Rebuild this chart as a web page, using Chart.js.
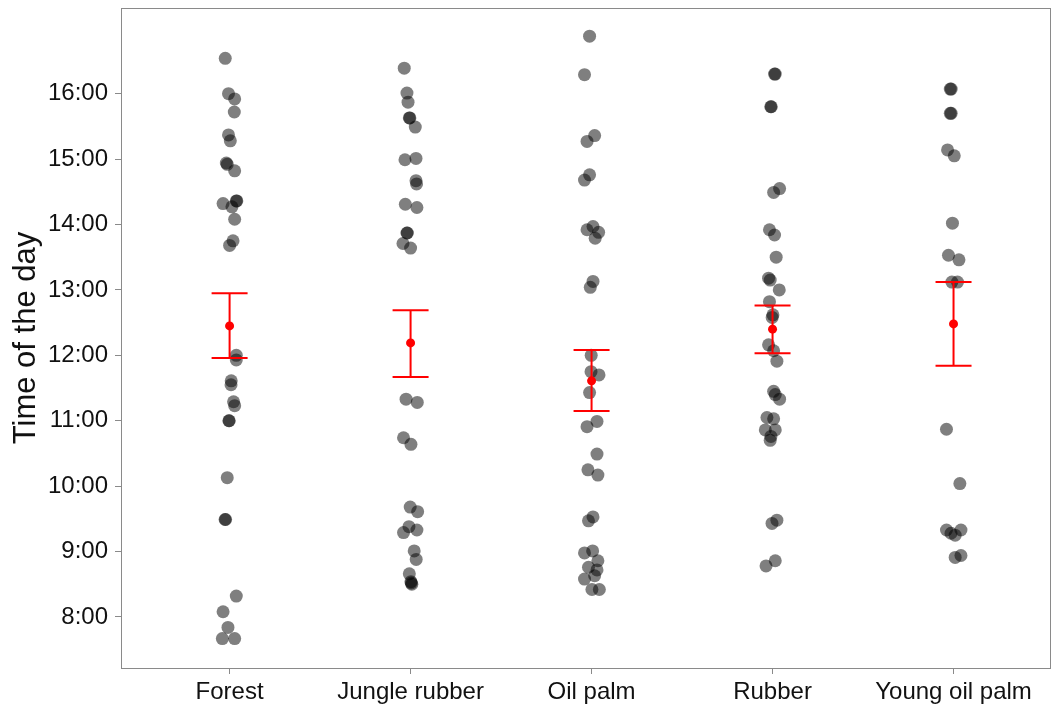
<!DOCTYPE html>
<html>
<head>
<meta charset="utf-8">
<script src="https://cdn.jsdelivr.net/npm/chart.js@4/dist/chart.umd.min.js"></script>
<style>
  html, body { margin: 0; padding: 0; background: #fff; overflow: hidden; }
  #wrap { width: 1052px; height: 708px; }
</style>
</head>
<body>
<div id="wrap"><canvas id="c" width="1052" height="708"></canvas></div>
<script>
// Land-use systems on the x axis
const categories = ["Forest", "Jungle rubber", "Oil palm", "Rubber", "Young oil palm"];

// Observation times (decimal hours) per land-use system
const forestTimes = [16.54,16.00,15.92,15.72,15.37,15.28,14.94,14.92,14.82,14.32,14.36,14.36,14.27,14.08,13.75,13.68,12.00,11.93,11.61,11.55,11.29,11.23,11.00,11.00,10.13,9.49,9.49,8.32,8.08,7.84,7.67,7.67];
const jungleRubberTimes = [16.39,16.01,15.87,15.63,15.63,15.49,14.99,15.01,14.67,14.62,14.31,14.26,13.87,13.87,13.71,13.64,11.33,11.28,10.74,10.64,9.68,9.61,9.29,9.38,9.33,9.01,8.88,8.66,8.54,8.52,8.50];
const oilPalmTimes = [16.88,16.29,15.36,15.27,14.76,14.68,13.97,13.92,13.88,13.79,13.13,13.04,12.00,11.75,11.70,11.43,10.99,10.91,10.49,10.25,10.17,9.53,9.47,9.01,8.98,8.86,8.76,8.72,8.63,8.58,8.42,8.42];
const rubberTimes = [16.30,16.30,15.80,15.80,14.55,14.49,13.92,13.84,13.50,13.18,13.15,13.00,12.82,12.62,12.58,12.16,12.07,11.91,11.45,11.40,11.33,11.05,11.03,10.86,10.86,10.76,10.70,9.48,9.43,8.86,8.78];
const youngOilPalmTimes = [16.07,16.07,15.70,15.70,15.14,15.05,14.02,13.53,13.46,13.12,13.12,10.87,10.04,9.33,9.28,9.25,9.33,8.91,8.94];

// Horizontal jitter of each observation (in category units)
const forestJitter = [-0.024,-0.006,0.028,0.026,-0.006,0.004,-0.018,-0.013,0.028,-0.036,0.037,0.040,0.013,0.028,0.019,0,0.037,0.037,0.009,0.008,0.022,0.028,-0.002,-0.004,-0.013,-0.022,-0.025,0.037,-0.036,-0.009,-0.040,0.028];
const jungleRubberJitter = [-0.035,-0.020,-0.014,-0.007,-0.004,0.026,-0.031,0.030,0.030,0.033,-0.029,0.035,-0.020,-0.018,-0.042,0,-0.025,0.037,-0.039,0.002,-0.002,0.039,-0.039,-0.009,0.035,0.020,0.031,-0.007,0.002,0.004,0.007];
const oilPalmJitter = [-0.011,-0.039,0.017,-0.025,-0.011,-0.039,0.008,-0.025,0.039,0.020,0.008,-0.007,-0.002,-0.003,0.041,-0.011,0.030,-0.025,0.030,-0.020,0.035,0.008,-0.017,0.006,-0.039,0.035,-0.017,0.030,0.017,-0.039,0.002,0.043];
const rubberJitter = [0.011,0.015,-0.007,-0.010,0.039,0.006,-0.017,0.011,0.020,-0.022,-0.013,0.037,-0.017,0.002,-0.002,-0.022,0.006,0.024,0.006,0.015,0.039,-0.031,0.006,-0.040,0.015,-0.009,-0.013,0.024,-0.003,0.015,-0.036];
const youngOilPalmJitter = [-0.018,-0.013,-0.018,-0.013,-0.033,0.004,-0.006,-0.028,0.030,-0.009,0.022,-0.039,0.035,-0.039,-0.014,0.009,0.041,0.009,0.041];

// Mean time and error-bar limits per land-use system
const meanTimes = [12.45, 12.19, 11.61, 12.40, 12.48];
const lowerTimes = [11.96, 11.67, 11.15, 12.03, 11.84];
const upperTimes = [12.95, 12.69, 12.08, 12.76, 13.12];

// Hour ticks on the y axis
const hourTicks = [8, 9, 10, 11, 12, 13, 14, 15, 16];

const allTimes = [forestTimes, jungleRubberTimes, oilPalmTimes, rubberTimes, youngOilPalmTimes];
const allJitter = [forestJitter, jungleRubberJitter, oilPalmJitter, rubberJitter, youngOilPalmJitter];

const FONT = "'Liberation Sans', Arial, sans-serif";
const AXIS_GREY = '#8a8a8a';

const observationPoints = [];
allTimes.forEach((times, i) => {
  times.forEach((t, j) => observationPoints.push({ x: i + allJitter[i][j], y: t }));
});

// Panel border plus red error bars with caps and mean dots
const panelAndErrorBars = {
  id: 'panelAndErrorBars',
  afterDatasetsDraw(chart) {
    const { ctx, chartArea: a, scales: { x, y } } = chart;
    ctx.save();
    ctx.strokeStyle = 'rgb(255,0,0)';
    ctx.fillStyle = 'rgb(255,0,0)';
    ctx.lineWidth = 2;
    const cap = 18;
    meanTimes.forEach((m, i) => {
      const px = x.getPixelForValue(i);
      const top = y.getPixelForValue(upperTimes[i]);
      const bot = y.getPixelForValue(lowerTimes[i]);
      ctx.beginPath();
      ctx.moveTo(px, top); ctx.lineTo(px, bot);
      ctx.moveTo(px - cap, top); ctx.lineTo(px + cap, top);
      ctx.moveTo(px - cap, bot); ctx.lineTo(px + cap, bot);
      ctx.stroke();
      ctx.beginPath();
      ctx.arc(px, y.getPixelForValue(m), 4.5, 0, Math.PI * 2);
      ctx.fill();
    });
    ctx.strokeStyle = AXIS_GREY;
    ctx.lineWidth = 1;
    ctx.strokeRect(Math.round(a.left) + 0.5, Math.round(a.top) + 0.5,
                   Math.round(a.right - a.left), Math.round(a.bottom - a.top));
    ctx.restore();
  }
};

new Chart(document.getElementById('c'), {
  type: 'scatter',
  data: {
    datasets: [
      {
        label: 'Observations',
        data: observationPoints,
        backgroundColor: 'rgba(0,0,0,0.5)',
        borderWidth: 0,
        pointRadius: 6.5,
        pointHoverRadius: 6.5
      }
    ]
  },
  options: {
    responsive: false,
    animation: false,
    events: [],
    layout: { autoPadding: false, padding: { left: 0, top: 8, right: 2, bottom: 0 } },
    plugins: { legend: { display: false }, tooltip: { enabled: false } },
    scales: {
      x: {
        type: 'linear',
        min: -0.6,
        max: 4.533,
        afterBuildTicks(scale) { scale.ticks = categories.map((_, i) => ({ value: i })); },
        afterFit(scale) {
          scale.height = 40;
          scale.paddingLeft = 0;
          scale.paddingRight = 0;
        },
        ticks: {
          callback: (v) => categories[v],
          color: '#111',
          font: { family: FONT, size: 24 },
          padding: 4,
          maxRotation: 0,
          autoSkip: false
        },
        grid: { drawOnChartArea: false, drawTicks: true, tickLength: 6, color: AXIS_GREY, tickColor: AXIS_GREY },
        border: { display: false }
      },
      y: {
        type: 'linear',
        min: 7.22,
        max: 17.31,
        afterBuildTicks(scale) { scale.ticks = hourTicks.map(h => ({ value: h })); },
        afterFit(scale) {
          scale.width = 121;
          scale.paddingTop = 0;
          scale.paddingBottom = 0;
        },
        ticks: {
          callback: (v) => v + ':00',
          color: '#111',
          font: { family: FONT, size: 24 },
          padding: 7
        },
        grid: { drawOnChartArea: false, drawTicks: true, tickLength: 6, color: AXIS_GREY, tickColor: AXIS_GREY },
        border: { display: false },
        title: {
          display: true,
          text: 'Time of the day',
          color: '#111',
          font: { family: FONT, size: 31 },
          padding: { top: 8, bottom: 0 }
        }
      }
    }
  },
  plugins: [panelAndErrorBars]
});
</script>
</body>
</html>
